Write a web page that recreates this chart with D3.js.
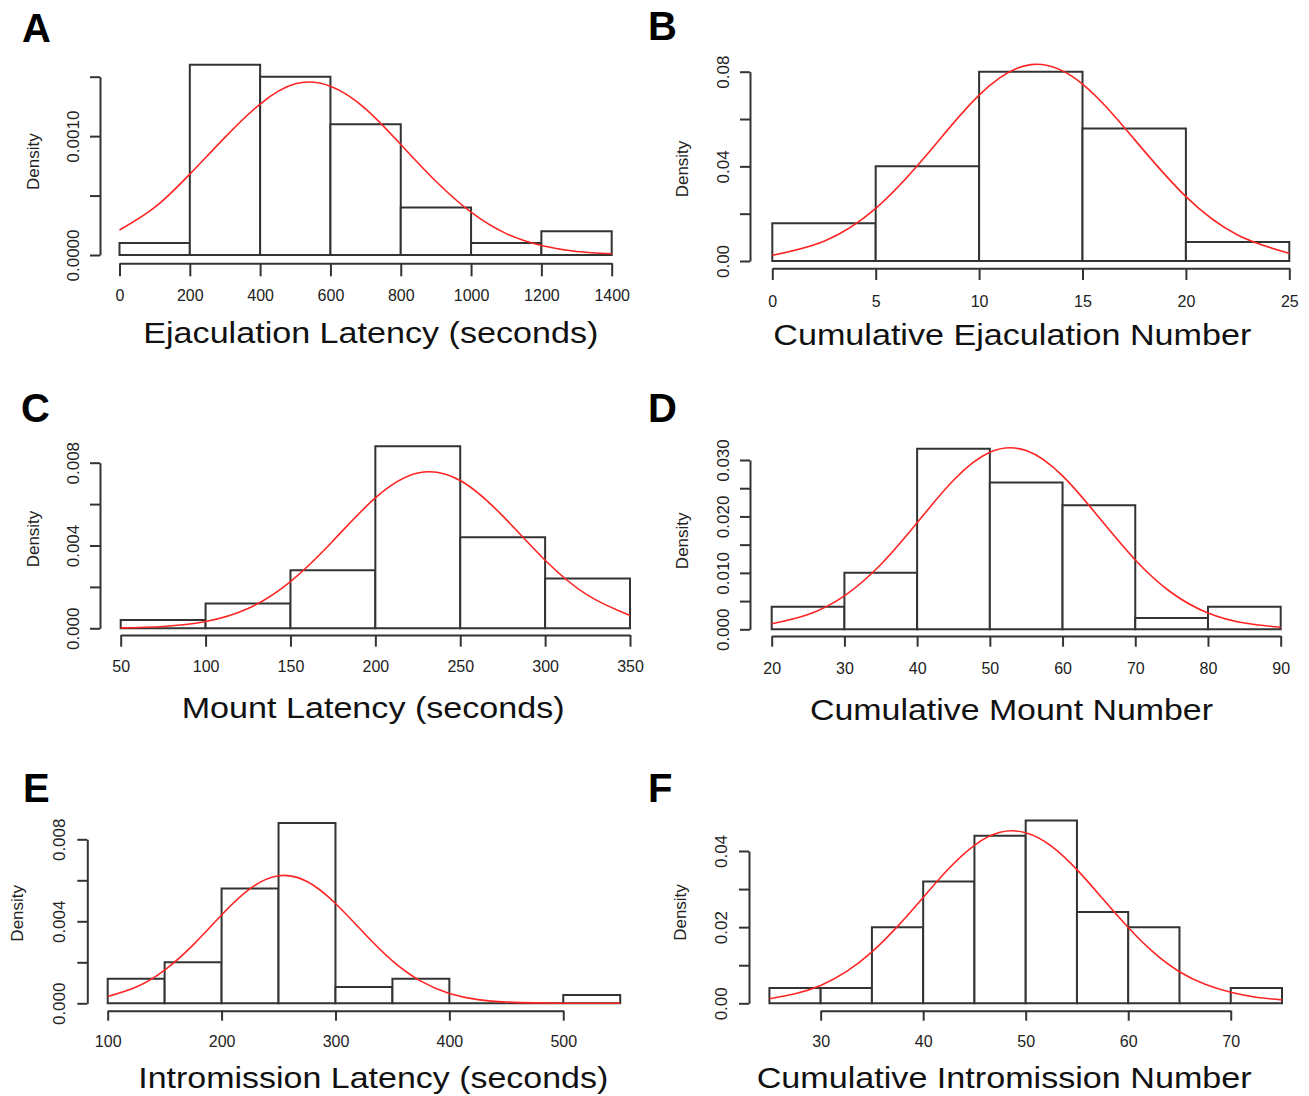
<!DOCTYPE html>
<html>
<head>
<meta charset="utf-8">
<script src="https://cdn.jsdelivr.net/npm/d3@7"></script>
<style>
  html, body { margin: 0; padding: 0; background: #fff; }
  svg { display: block; }
  text { font-family: "Liberation Sans", Arial, sans-serif; }
</style>
</head>
<body>
<svg id="fig" width="1309" height="1096"></svg>
<script>
// ---------- A: ejaculation latency ----------
const ejacLatencyBreaks = [0, 200, 400, 600, 800, 1000, 1200, 1400];
const ejacLatencyDensity = [0.0001, 0.0016, 0.0015, 0.0011, 0.0004, 0.0001, 0.0002];
const ejacLatencyCurveX = [0, 100, 200, 300, 400, 500, 600, 700, 800, 900, 1000, 1100, 1200, 1300, 1400];
const ejacLatencyCurveY = [0.00021, 0.00040, 0.00068, 0.00099, 0.00127, 0.00144, 0.00142, 0.00123, 0.00093, 0.00062, 0.00036, 0.00018, 0.00008, 0.00003, 0.00001];
const ejacLatencyXTicks = [0, 200, 400, 600, 800, 1000, 1200, 1400];
const ejacLatencyYTicks = [0, 0.0005, 0.0010, 0.0015];
const ejacLatencyYLabels = ["0.0000", "", "0.0010", ""];

// ---------- B: cumulative ejaculation number ----------
const ejacNumberBreaks = [0, 5, 10, 15, 20, 25];
const ejacNumberDensity = [0.016, 0.040, 0.080, 0.056, 0.008];
const ejacNumberCurveX = [0, 2.5, 5, 7.5, 10, 12.5, 15, 17.5, 20, 22.5, 25];
const ejacNumberCurveY = [0.0024, 0.0083, 0.0222, 0.0452, 0.0701, 0.0830, 0.0748, 0.0515, 0.0272, 0.0110, 0.0033];
const ejacNumberXTicks = [0, 5, 10, 15, 20, 25];
const ejacNumberYTicks = [0, 0.02, 0.04, 0.06, 0.08];
const ejacNumberYLabels = ["0.00", "", "0.04", "", "0.08"];

// ---------- C: mount latency ----------
const mountLatencyBreaks = [50, 100, 150, 200, 250, 300, 350];
const mountLatencyDensity = [0.0004, 0.0012, 0.0028, 0.0088, 0.0044, 0.0024];
const mountLatencyCurveX = [50, 75, 100, 125, 150, 175, 200, 225, 250, 275, 300, 325, 350];
const mountLatencyCurveY = [0.00002, 0.00009, 0.00033, 0.00096, 0.00226, 0.00422, 0.00630, 0.00750, 0.00714, 0.00543, 0.00329, 0.00160, 0.00062];
const mountLatencyXTicks = [50, 100, 150, 200, 250, 300, 350];
const mountLatencyYTicks = [0, 0.002, 0.004, 0.006, 0.008];
const mountLatencyYLabels = ["0.000", "", "0.004", "", "0.008"];

// ---------- D: cumulative mount number ----------
const mountNumberBreaks = [20, 30, 40, 50, 60, 70, 80, 90];
const mountNumberDensity = [0.004, 0.010, 0.032, 0.026, 0.022, 0.002, 0.004];
const mountNumberCurveX = [20, 25, 30, 35, 40, 45, 50, 55, 60, 65, 70, 75, 80, 85, 90];
const mountNumberCurveY = [0.00097, 0.00261, 0.00593, 0.01148, 0.01888, 0.02640, 0.03136, 0.03167, 0.02718, 0.01983, 0.01229, 0.00648, 0.00290, 0.00111, 0.00036];
const mountNumberXTicks = [20, 30, 40, 50, 60, 70, 80, 90];
const mountNumberYTicks = [0, 0.005, 0.010, 0.015, 0.020, 0.025, 0.030];
const mountNumberYLabels = ["0.000", "", "0.010", "", "0.020", "", "0.030"];

// ---------- E: intromission latency ----------
const introLatencyBreaks = [100, 150, 200, 250, 300, 350, 400, 450, 500, 550];
const introLatencyDensity = [0.0012, 0.0020, 0.0056, 0.0088, 0.0008, 0.0012, 0, 0, 0.0004];
const introLatencyCurveX = [100, 125, 150, 175, 200, 225, 250, 275, 300, 325, 350, 375, 400, 425, 450, 475, 500, 525, 550];
const introLatencyCurveY = [0.00033, 0.00079, 0.00162, 0.00285, 0.00431, 0.00559, 0.00622, 0.00594, 0.00487, 0.00343, 0.00207, 0.00108, 0.00048, 0.00018, 0.00006, 0.00002, 0, 0, 0];
const introLatencyXTicks = [100, 200, 300, 400, 500];
const introLatencyYTicks = [0, 0.002, 0.004, 0.006, 0.008];
const introLatencyYLabels = ["0.000", "", "0.004", "", "0.008"];

// ---------- F: cumulative intromission number ----------
const introNumberBreaks = [25, 30, 35, 40, 45, 50, 55, 60, 65, 70, 75];
const introNumberDensity = [0.004, 0.004, 0.020, 0.032, 0.044, 0.048, 0.024, 0.020, 0, 0.004];
const introNumberCurveX = [25, 27.5, 30, 32.5, 35, 37.5, 40, 42.5, 45, 47.5, 50, 52.5, 55, 57.5, 60, 62.5, 65, 67.5, 70, 72.5, 75];
const introNumberCurveY = [0.0012, 0.0025, 0.0047, 0.0083, 0.0135, 0.0202, 0.0278, 0.0354, 0.0415, 0.0449, 0.0448, 0.0413, 0.0351, 0.0275, 0.0199, 0.0133, 0.0083, 0.0050, 0.0029, 0.0016, 0.0009];
const introNumberXTicks = [30, 40, 50, 60, 70];
const introNumberYTicks = [0, 0.01, 0.02, 0.03, 0.04];
const introNumberYLabels = ["0.00", "", "0.02", "", "0.04"];

// ---------- panel layout (pixel geometry) ----------
const panels = [
  { letter: "A", title: "Ejaculation Latency (seconds)",
    breaks: ejacLatencyBreaks, density: ejacLatencyDensity, cx: ejacLatencyCurveX, cy: ejacLatencyCurveY,
    xTicks: ejacLatencyXTicks, yTicks: ejacLatencyYTicks, yLabels: ejacLatencyYLabels,
    px: [119.5, 611.7], py: [255, 76.7], yAxisX: 100, xAxisY: 263.3, xTickLen: 13,
    xLabelY: 295, yLabelX: 72.5, densX: 33, densY: 161.7,
    titleX: 143.3, titleY: 343.3, titleW: 455, letterX: 22, letterY: 42 },
  { letter: "B", title: "Cumulative Ejaculation Number",
    breaks: ejacNumberBreaks, density: ejacNumberDensity, cx: ejacNumberCurveX, cy: ejacNumberCurveY,
    xTicks: ejacNumberXTicks, yTicks: ejacNumberYTicks, yLabels: ejacNumberYLabels,
    px: [772.3, 1289.3], py: [261, 71.7], yAxisX: 750, xAxisY: 268.3, xTickLen: 11.7,
    xLabelY: 301.7, yLabelX: 722.5, densX: 682, densY: 169,
    titleX: 773.3, titleY: 345, titleW: 478, letterX: 648, letterY: 40 },
  { letter: "C", title: "Mount Latency (seconds)",
    breaks: mountLatencyBreaks, density: mountLatencyDensity, cx: mountLatencyCurveX, cy: mountLatencyCurveY,
    xTicks: mountLatencyXTicks, yTicks: mountLatencyYTicks, yLabels: mountLatencyYLabels,
    px: [120.7, 630], py: [628.3, 462.7], yAxisX: 100, xAxisY: 635, xTickLen: 11.7,
    xLabelY: 666.7, yLabelX: 72.5, densX: 33, densY: 539,
    titleX: 181.7, titleY: 718.3, titleW: 383, letterX: 21, letterY: 421.7 },
  { letter: "D", title: "Cumulative Mount Number",
    breaks: mountNumberBreaks, density: mountNumberDensity, cx: mountNumberCurveX, cy: mountNumberCurveY,
    xTicks: mountNumberXTicks, yTicks: mountNumberYTicks, yLabels: mountNumberYLabels,
    px: [771.7, 1280.7], py: [629.3, 460], yAxisX: 750, xAxisY: 636, xTickLen: 10.7,
    xLabelY: 668.3, yLabelX: 722.5, densX: 682, densY: 540.8,
    titleX: 810, titleY: 720, titleW: 403, letterX: 648, letterY: 421.7 },
  { letter: "E", title: "Intromission Latency (seconds)",
    breaks: introLatencyBreaks, density: introLatencyDensity, cx: introLatencyCurveX, cy: introLatencyCurveY,
    xTicks: introLatencyXTicks, yTicks: introLatencyYTicks, yLabels: introLatencyYLabels,
    px: [107.7, 620.2], py: [1003.3, 839.3], yAxisX: 87.3, xAxisY: 1010.7, xTickLen: 10,
    xLabelY: 1041, yLabelX: 59, densX: 17, densY: 913.3,
    titleX: 138.3, titleY: 1088.3, titleW: 470, letterX: 23, letterY: 801.7 },
  { letter: "F", title: "Cumulative Intromission Number",
    breaks: introNumberBreaks, density: introNumberDensity, cx: introNumberCurveX, cy: introNumberCurveY,
    xTicks: introNumberXTicks, yTicks: introNumberYTicks, yLabels: introNumberYLabels,
    px: [769.4, 1282], py: [1003.3, 851], yAxisX: 749, xAxisY: 1010.7, xTickLen: 10,
    xLabelY: 1041, yLabelX: 720.5, densX: 680, densY: 912.5,
    titleX: 756.7, titleY: 1088.3, titleW: 495, letterX: 648, letterY: 801.7 }
];

const INK = "#333";
const CURVE = "#ff2424";
const svg = d3.select("#fig");
svg.append("rect").attr("width", 1309).attr("height", 1096).attr("fill", "#fff");

panels.forEach(p => {
  const g = svg.append("g").attr("class", "panel-" + p.letter);
  const x = d3.scaleLinear().domain([p.breaks[0], p.breaks[p.breaks.length - 1]]).range(p.px);
  const y = d3.scaleLinear().domain([0, p.yTicks[p.yTicks.length - 1]]).range(p.py);

  // histogram bars (paths so that empty bins still show as a line)
  const bins = p.density.map((d, i) => ({ x0: p.breaks[i], x1: p.breaks[i + 1], d }));
  g.selectAll("path.bar").data(bins).join("path")
    .attr("class", "bar")
    .attr("d", b => `M${x(b.x0)},${y(0)}V${y(b.d)}H${x(b.x1)}V${y(0)}Z`)
    .attr("fill", "#fff").attr("stroke", INK).attr("stroke-width", 2)
    .attr("stroke-linejoin", "miter");

  // fitted density curve
  const pts = p.cx.map((v, i) => [v, p.cy[i]]);
  g.append("path").datum(pts)
    .attr("d", d3.line().x(d => x(d[0])).y(d => y(d[1])).curve(d3.curveNatural))
    .attr("fill", "none").attr("stroke", CURVE).attr("stroke-width", 1.6);

  // x axis (spans first to last tick only)
  const xa = x.copy().domain([p.xTicks[0], p.xTicks[p.xTicks.length - 1]])
    .range([x(p.xTicks[0]), x(p.xTicks[p.xTicks.length - 1])]);
  const gx = g.append("g").attr("transform", `translate(0,${p.xAxisY})`)
    .call(d3.axisBottom(xa).tickValues(p.xTicks).tickSize(p.xTickLen).tickSizeOuter(0).tickFormat(d3.format("")));
  gx.selectAll("text").attr("y", p.xLabelY - p.xAxisY).attr("dy", "0.36em")
    .attr("font-size", 16).attr("fill", "#222");

  // y axis with rotated labels
  const gy = g.append("g").attr("transform", `translate(${p.yAxisX},0)`)
    .call(d3.axisLeft(y).tickValues(p.yTicks).tickSize(10).tickSizeOuter(0)
      .tickFormat((d, i) => p.yLabels[i]));
  gy.selectAll("text")
    .attr("x", 0).attr("y", 0).attr("dy", "0.36em")
    .attr("text-anchor", "middle")
    .attr("transform", `translate(${p.yLabelX - p.yAxisX},0) rotate(-90)`)
    .attr("font-size", 17).attr("fill", "#222");

  [gx, gy].forEach(a => {
    a.selectAll("path.domain, line").attr("stroke", INK).attr("stroke-width", 2);
    a.attr("font-family", null);
  });

  // "Density" label
  g.append("text")
    .attr("transform", `translate(${p.densX},${p.densY}) rotate(-90)`)
    .attr("text-anchor", "middle").attr("dy", "0.36em")
    .attr("font-size", 17).attr("fill", "#222")
    .text("Density");

  // axis title
  g.append("text")
    .attr("x", p.titleX).attr("y", p.titleY)
    .attr("font-size", 30).attr("fill", "#111")
    .attr("textLength", p.titleW).attr("lengthAdjust", "spacingAndGlyphs")
    .text(p.title);

  // panel letter
  g.append("text")
    .attr("x", p.letterX).attr("y", p.letterY)
    .attr("font-size", 40).attr("font-weight", "bold").attr("fill", "#000")
    .text(p.letter);
});
</script>
</body>
</html>
